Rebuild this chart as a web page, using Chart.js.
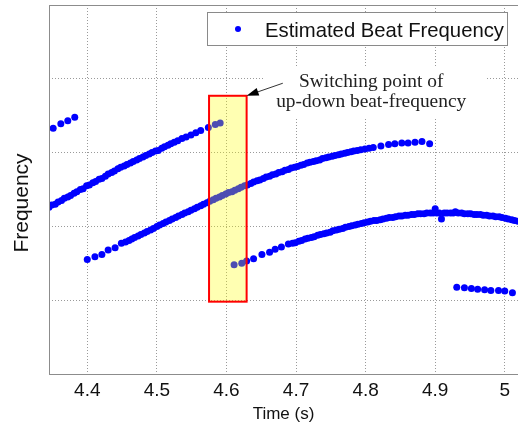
<!DOCTYPE html>
<html lang="en">
<head>
<meta charset="UTF-8">
<title>Estimated Beat Frequency</title>
<script src="https://cdn.jsdelivr.net/npm/chart.js/dist/chart.umd.min.js"></script>
<style>
  html, body { margin: 0; padding: 0; background: #fff; }
  .chartBox { position: relative; width: 518px; height: 426px; }
</style>
</head>
<body>
<div class="chartBox"><canvas id="beatChart" width="518" height="426"></canvas></div>

<script>
// ---------------- data ----------------
// short upper piece at the start
const timeA = [4.351, 4.362, 4.372, 4.382];
const freqA = [3.33, 3.39, 3.43, 3.48];

// upper rising track, ends at the switching point
const timeB = [4.345, 4.349, 4.354, 4.358, 4.363, 4.367, 4.372, 4.376, 4.381, 4.385,
               4.390, 4.394, 4.399, 4.403, 4.408, 4.412, 4.417, 4.421, 4.426, 4.430,
               4.435, 4.439, 4.444, 4.448, 4.453, 4.457, 4.462, 4.466, 4.471, 4.475,
               4.480, 4.484, 4.489, 4.493, 4.498, 4.502, 4.507, 4.511, 4.516, 4.520,
               4.525, 4.530, 4.536, 4.542, 4.549, 4.556, 4.563, 4.574, 4.584, 4.591];
const freqB = [2.26, 2.29, 2.30, 2.33, 2.35, 2.38, 2.40, 2.42, 2.45, 2.47,
               2.50, 2.51, 2.55, 2.56, 2.59, 2.61, 2.64, 2.65, 2.68, 2.71,
               2.73, 2.75, 2.78, 2.80, 2.82, 2.84, 2.86, 2.88, 2.90, 2.92,
               2.94, 2.96, 2.98, 3.00, 3.02, 3.03, 3.06, 3.08, 3.10, 3.12,
               3.14, 3.16, 3.19, 3.21, 3.24, 3.27, 3.30, 3.34, 3.38, 3.40];

// middle track
const timeC = [4.400, 4.411, 4.421, 4.430, 4.440, 4.449, 4.455, 4.460, 4.464, 4.468,
               4.473, 4.477, 4.482, 4.486, 4.491, 4.495, 4.500, 4.504, 4.509, 4.513,
               4.518, 4.522, 4.527, 4.531, 4.536, 4.540, 4.545, 4.549, 4.554, 4.558,
               4.563, 4.567, 4.572, 4.576, 4.581, 4.585, 4.590, 4.594, 4.599, 4.603,
               4.608, 4.612, 4.617, 4.621, 4.626, 4.630, 4.635, 4.639, 4.644, 4.648,
               4.653, 4.657, 4.662, 4.666, 4.671, 4.675, 4.680, 4.684, 4.689, 4.693,
               4.698, 4.702, 4.707, 4.711, 4.716, 4.720, 4.725, 4.729, 4.734, 4.738,
               4.743, 4.747, 4.752, 4.756, 4.761, 4.765, 4.770, 4.774, 4.779, 4.783,
               4.788, 4.793, 4.799, 4.805, 4.811, 4.822, 4.833, 4.842, 4.852, 4.861,
               4.871, 4.881, 4.892];
const freqC = [1.55, 1.59, 1.62, 1.68, 1.71, 1.77, 1.79, 1.81, 1.83, 1.85,
               1.87, 1.89, 1.91, 1.93, 1.95, 1.97, 2.00, 2.02, 2.04, 2.06,
               2.08, 2.10, 2.12, 2.14, 2.16, 2.18, 2.20, 2.22, 2.24, 2.26,
               2.28, 2.30, 2.32, 2.34, 2.36, 2.38, 2.40, 2.42, 2.44, 2.46,
               2.47, 2.49, 2.51, 2.53, 2.55, 2.56, 2.58, 2.60, 2.62, 2.63,
               2.65, 2.67, 2.68, 2.70, 2.71, 2.73, 2.74, 2.76, 2.77, 2.79,
               2.80, 2.81, 2.83, 2.84, 2.86, 2.87, 2.88, 2.89, 2.90, 2.92,
               2.93, 2.94, 2.95, 2.96, 2.97, 2.98, 2.99, 3.00, 3.01, 3.02,
               3.03, 3.04, 3.05, 3.06, 3.07, 3.09, 3.11, 3.12, 3.13, 3.13,
               3.14, 3.15, 3.12];

// lower track, starts right after the switching point
const timeD = [4.611, 4.622, 4.629, 4.639, 4.651, 4.662, 4.670, 4.679, 4.689, 4.695,
               4.699, 4.704, 4.708, 4.713, 4.717, 4.722, 4.726, 4.731, 4.735, 4.740,
               4.744, 4.749, 4.753, 4.758, 4.762, 4.767, 4.771, 4.776, 4.780, 4.785,
               4.789, 4.794, 4.798, 4.803, 4.807, 4.812, 4.816, 4.821, 4.825, 4.830,
               4.834, 4.839, 4.843, 4.848, 4.852, 4.857, 4.861, 4.866, 4.870, 4.875,
               4.879, 4.884, 4.888, 4.893, 4.897, 4.900, 4.902, 4.906, 4.909, 4.913,
               4.917, 4.922, 4.926, 4.929, 4.933, 4.938, 4.942, 4.947, 4.951, 4.956,
               4.960, 4.965, 4.969, 4.974, 4.978, 4.983, 4.987, 4.992, 4.996, 5.001,
               5.005, 5.010, 5.014, 5.019];
const freqD = [1.48, 1.50, 1.53, 1.56, 1.62, 1.65, 1.69, 1.72, 1.76, 1.77,
               1.78, 1.80, 1.81, 1.83, 1.84, 1.85, 1.86, 1.88, 1.89, 1.90,
               1.91, 1.92, 1.94, 1.95, 1.96, 1.97, 1.99, 2.00, 2.01, 2.02,
               2.03, 2.04, 2.05, 2.06, 2.07, 2.08, 2.08, 2.09, 2.10, 2.11,
               2.12, 2.12, 2.13, 2.14, 2.14, 2.15, 2.15, 2.16, 2.16, 2.17,
               2.17, 2.17, 2.18, 2.18, 2.18, 2.24, 2.18, 2.18, 2.10, 2.18,
               2.18, 2.18, 2.18, 2.20, 2.18, 2.18, 2.17, 2.17, 2.17, 2.16,
               2.16, 2.16, 2.15, 2.15, 2.14, 2.14, 2.13, 2.13, 2.12, 2.11,
               2.10, 2.09, 2.08, 2.07];

// short lower piece at the end
const timeE = [4.931, 4.942, 4.952, 4.961, 4.971, 4.980, 4.991, 5.000, 5.011];
const freqE = [1.175, 1.17, 1.16, 1.15, 1.14, 1.13, 1.13, 1.125, 1.10];

const xTicks = [4.4, 4.5, 4.6, 4.7, 4.8, 4.9, 5.0];
const xTickLabels = ['4.4', '4.5', '4.6', '4.7', '4.8', '4.9', '5'];
const yTicks = [0, 1, 2, 3, 4, 5];

// highlighted switching region and its note
const switchTime = [4.575, 4.629];
const switchFreq = [0.98, 3.77];
const noteLines = ['Switching point of', 'up-down beat-frequency'];
const noteTime = 4.808;
const noteFreq = [3.96, 3.69];
const noteBgTime = [4.655, 4.972];
const noteBgFreq = [3.47, 4.16];
const arrowTime = [4.681, 4.629];
const arrowFreq = [3.94, 3.77];

const points = [];
[[timeA, freqA], [timeB, freqB], [timeC, freqC], [timeD, freqD], [timeE, freqE]].forEach(([t, f]) => {
    t.forEach((v, i) => points.push({ x: v, y: f[i] }));
});

const SANS = '"Liberation Sans", Arial, sans-serif';
const SERIF = '"Liberation Serif", "Times New Roman", serif';

// yellow box, note, arrow, legend, frame and axis titles
const overlayPlugin = {
    id: 'overlay',
    afterDatasetsDraw(chart) {
        const { ctx, chartArea: area, scales: { x, y } } = chart;
        ctx.save();

        // switching box
        const bx0 = x.getPixelForValue(switchTime[0]);
        const bx1 = x.getPixelForValue(switchTime[1]);
        const by0 = y.getPixelForValue(switchFreq[1]);
        const by1 = y.getPixelForValue(switchFreq[0]);
        ctx.fillStyle = 'rgba(255, 255, 0, 0.3)';
        ctx.fillRect(bx0, by0, bx1 - bx0, by1 - by0);
        ctx.strokeStyle = '#ff0000';
        ctx.lineWidth = 2;
        ctx.strokeRect(bx0, by0, bx1 - bx0, by1 - by0);

        // note background + text
        const nx0 = x.getPixelForValue(noteBgTime[0]);
        const nx1 = x.getPixelForValue(noteBgTime[1]);
        const ny0 = y.getPixelForValue(noteBgFreq[1]);
        const ny1 = y.getPixelForValue(noteBgFreq[0]);
        ctx.fillStyle = '#ffffff';
        ctx.fillRect(nx0, ny0, nx1 - nx0, ny1 - ny0);
        ctx.fillStyle = '#222';
        ctx.font = '19.4px ' + SERIF;
        ctx.textAlign = 'center';
        ctx.textBaseline = 'middle';
        noteLines.forEach((line, i) => {
            ctx.fillText(line, x.getPixelForValue(noteTime), y.getPixelForValue(noteFreq[i]));
        });

        // arrow
        const ax0 = x.getPixelForValue(arrowTime[0]), ay0 = y.getPixelForValue(arrowFreq[0]);
        const ax1 = x.getPixelForValue(arrowTime[1]), ay1 = y.getPixelForValue(arrowFreq[1]);
        const ang = Math.atan2(ay1 - ay0, ax1 - ax0);
        ctx.strokeStyle = '#333';
        ctx.lineWidth = 1;
        ctx.beginPath();
        ctx.moveTo(ax0, ay0);
        ctx.lineTo(ax1 - 10 * Math.cos(ang), ay1 - 10 * Math.sin(ang));
        ctx.stroke();
        ctx.fillStyle = '#000';
        ctx.beginPath();
        ctx.moveTo(ax1, ay1);
        ctx.lineTo(ax1 - 12 * Math.cos(ang) + 4 * Math.sin(ang), ay1 - 12 * Math.sin(ang) - 4 * Math.cos(ang));
        ctx.lineTo(ax1 - 12 * Math.cos(ang) - 4 * Math.sin(ang), ay1 - 12 * Math.sin(ang) + 4 * Math.cos(ang));
        ctx.closePath();
        ctx.fill();

        // legend
        const lx = 207.5, ly = 12.5, lw = 300, lh = 33;
        ctx.fillStyle = '#fff';
        ctx.fillRect(lx, ly, lw, lh);
        ctx.strokeStyle = '#8a8a8a';
        ctx.lineWidth = 1;
        ctx.strokeRect(lx, ly, lw, lh);
        ctx.fillStyle = '#0000ff';
        ctx.beginPath();
        ctx.arc(238, 29, 3, 0, Math.PI * 2);
        ctx.fill();
        ctx.fillStyle = '#111';
        ctx.font = '20.3px ' + SANS;
        ctx.textAlign = 'left';
        ctx.textBaseline = 'alphabetic';
        ctx.fillText(chart.data.datasets[0].label, 265, 37);

        // frame (top, left, bottom)
        ctx.strokeStyle = '#8c8c8c';
        ctx.beginPath();
        ctx.moveTo(area.right + 1, Math.round(area.top) + 0.5);
        ctx.lineTo(Math.round(area.left) + 0.5, Math.round(area.top) + 0.5);
        ctx.lineTo(Math.round(area.left) + 0.5, Math.round(area.bottom) + 0.5);
        ctx.lineTo(area.right + 1, Math.round(area.bottom) + 0.5);
        ctx.stroke();

        // axis titles
        ctx.fillStyle = '#111';
        ctx.font = '17px ' + SANS;
        ctx.textAlign = 'center';
        ctx.textBaseline = 'alphabetic';
        ctx.fillText('Time (s)', (area.left + area.right) / 2, 419);
        ctx.translate(22, 203);
        ctx.rotate(-Math.PI / 2);
        ctx.font = '21px ' + SANS;
        ctx.textBaseline = 'middle';
        ctx.fillText('Frequency', 0, 0);
        ctx.restore();
    }
};

const ctx = document.getElementById('beatChart').getContext('2d');
const beatChart = new Chart(ctx, {
    type: 'scatter',
    data: {
        datasets: [{
            label: 'Estimated Beat Frequency',
            data: points,
            pointRadius: 3.5,
            pointBackgroundColor: '#0000ff',
            pointBorderWidth: 0,
            showLine: false
        }]
    },
    options: {
        responsive: false,
        animation: false,
        devicePixelRatio: 1,
        layout: { autoPadding: false, padding: { top: 5, right: 0, left: 0, bottom: 0 } },
        plugins: { legend: { display: false }, tooltip: { enabled: false } },
        scales: {
            x: {
                type: 'linear',
                position: 'bottom',
                min: 4.345,
                max: 5.019,
                afterBuildTicks: (scale) => { scale.ticks = xTicks.map(v => ({ value: v })); },
                afterFit: (scale) => {
                    scale.height = 52;
                    scale.paddingLeft = 0;
                    scale.paddingRight = 0;
                },
                ticks: {
                    callback: (value, index) => xTickLabels[index],
                    font: { family: SANS, size: 19 },
                    color: '#111',
                    padding: 5,
                    maxRotation: 0
                },
                grid: { color: '#9a9a9a', drawTicks: false },
                border: { display: false, dash: [1, 2] }
            },
            y: {
                type: 'linear',
                min: 0,
                max: 5,
                afterBuildTicks: (scale) => { scale.ticks = yTicks.map(v => ({ value: v })); },
                afterFit: (scale) => {
                    scale.width = 49;
                    scale.paddingTop = 0;
                    scale.paddingBottom = 0;
                },
                ticks: { display: false },
                grid: { color: '#9a9a9a', drawTicks: false },
                border: { display: false, dash: [1, 2] }
            }
        }
    },
    plugins: [overlayPlugin]
});
</script>
</body>
</html>
